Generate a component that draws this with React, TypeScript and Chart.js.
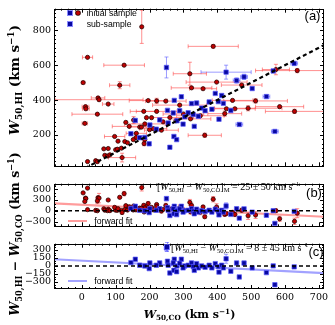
import React, { useEffect, useRef } from "react";
import { Chart, registerables } from "chart.js";
Chart.register(...registerables);

// ---------- axis / tick data ----------
const xTicks = [0, 100, 200, 300, 400, 500, 600, 700];
const yTicksA = [200, 400, 600, 800];
const yTicksB = [-300, 0, 300, 600];
const yTicksC = [-300, -150, 0, 150, 300];
const xLimits = [-82, 715];
const yLimitsA = [20, 924];
const yLimitsB = [-430, 750];
const yLimitsC = [-430, 415];

// ---------- initial sample (red circles) ----------
const redW50CO = [177, 17, 125, 4, 112, 48, 51, 78, 11, 12, 46, 9, 196, 388, 319, 636, 472, 398, 324, 358, 513, 445, 584, 628, 491, 422, 363, 452, 573, 65, 78, 100, 105, 117, 68, 76, 83, 119, 41, 46, 17, 97, 107, 127, 135, 153, 130, 160, 184, 206, 140, 171, 183, 191, 221, 248, 152, 161, 186, 221, 289, 186, 176, 211, 235, 278, 321, 427, 260, 300, 350, 240, 200];
const redW50HI = [820, 645, 600, 500, 485, 412, 402, 377, 362, 350, 319, 266, 397, 708, 551, 569, 486, 503, 470, 465, 395, 398, 362, 335, 353, 322, 198, 350, 575, 120, 122, 115, 118, 124, 83, 79, 86, 70, 52, 47, 47, 191, 164, 162, 155, 285, 272, 185, 150, 299, 249, 245, 335, 299, 395, 394, 173, 209, 173, 335, 371, 263, 245, 236, 227, 281, 292, 350, 300, 320, 310, 275, 230];
const redErrCO = [0, 15, 60, 5, 30, 20, 130, 17, 10, 10, 75, 8, 56, 74, 49, 123, 60, 90, 60, 40, 94, 60, 71, 86, 100, 50, 49, 60, 40, 0, 0, 0, 0, 0, 0, 0, 0, 40, 0, 0, 0, 30, 0, 0, 0, 0, 0, 0, 0, 0, 50, 30, 40, 0, 0, 60, 0, 30, 0, 60, 80, 60, 0, 40, 50, 0, 60, 0, 70, 60, 70, 0, 0];
const redErrHI = [95, 0, 0, 0, 20, 8, 8, 0, 8, 8, 0, 0, 0, 10, 66, 12, 0, 0, 0, 0, 12, 0, 0, 12, 15, 15, 12, 0, 30, 0, 0, 0, 0, 0, 0, 0, 0, 25, 0, 10, 0, 0, 0, 0, 0, 20, 0, 0, 12, 0, 0, 0, 0, 0, 15, 0, 0, 0, 0, 0, 0, 0, 0, 0, 0, 0, 0, 0, 0, 0, 0, 0, 0];

// ---------- sub-sample (blue squares) ----------
const blueW50CO = [145, 158, 171, 201, 199, 186, 230, 220, 253, 255, 273, 270, 260, 272, 281, 294, 289, 304, 299, 314, 324, 329, 339, 344, 354, 364, 376, 384, 394, 403, 413, 426, 418, 440, 457, 479, 465, 503, 545, 565, 570, 627, 250, 280, 332, 405];
const blueW50HI = [207, 283, 184, 257, 149, 186, 286, 233, 341, 268, 398, 326, 129, 191, 281, 419, 339, 304, 262, 327, 380, 317, 383, 307, 354, 339, 389, 347, 438, 391, 426, 560, 381, 340, 512, 533, 260, 466, 420, 567, 220, 610, 587, 173, 249, 290];
const blueErrCO = [0, 0, 0, 0, 0, 0, 0, 0, 0, 0, 0, 0, 0, 0, 0, 0, 0, 0, 0, 0, 0, 0, 0, 0, 0, 0, 0, 0, 0, 0, 0, 74, 0, 0, 10, 10, 10, 0, 10, 0, 10, 10, 0, 0, 0, 0];
const blueErrHI = [0, 0, 0, 0, 0, 0, 0, 0, 0, 0, 0, 0, 0, 0, 0, 0, 0, 0, 0, 0, 0, 0, 0, 0, 0, 0, 0, 0, 0, 0, 0, 40, 0, 0, 15, 15, 0, 0, 0, 0, 0, 0, 60, 0, 0, 0];

// ---------- lines ----------
const identityX = [-82, 715];
const zeroX = [-82, 715];
const fitInitialX = [-82, 715];
const fitInitialY = [205, -165];
const fitSubX = [-82, 715];
const fitSubY = [125, -135];

// ---------- styles ----------
const RED = "#c00000";
const RED_EDGE = "#2a0000";
const RED_ERR = "rgba(255,70,70,0.6)";
const BLUE = "#0808a0";
const BLUE_EDGE = "rgba(90,90,255,0.7)";
const BLUE_ERR = "rgba(90,90,255,0.6)";
const RED_FIT = "rgba(255,90,90,0.6)";
const BLUE_FIT = "rgba(100,100,255,0.6)";
const TICK_FONT = { family: "DejaVu Serif", size: 9.5 };

const fmt = (v: number) => (v < 0 ? "\u2212" + Math.abs(v) : String(v));

const pts = (xs: number[], ys: number[]) => xs.map((x, i) => ({ x, y: ys[i] }));
const redResid = redW50HI.map((v, i) => v - redW50CO[i]);
const blueResid = blueW50HI.map((v, i) => v - blueW50CO[i]);
const redResidErr = redErrHI.map((v, i) => Math.hypot(v, redErrCO[i]));
const blueResidErr = blueErrHI.map((v, i) => Math.hypot(v, blueErrCO[i]));

// ---------- plugins ----------
const errorBarPlugin = {
  id: "errorBars",
  beforeDatasetsDraw(chart: any) {
    const { ctx, chartArea } = chart;
    const xs = chart.scales.x;
    const ys = chart.scales.y;
    ctx.save();
    ctx.beginPath();
    ctx.rect(chartArea.left, chartArea.top, chartArea.width, chartArea.height);
    ctx.clip();
    chart.data.datasets.forEach((ds: any) => {
      if (!ds.errX && !ds.errY) return;
      ctx.strokeStyle = ds.errColor;
      ctx.lineWidth = 1;
      ds.data.forEach((p: any, i: number) => {
        const px = xs.getPixelForValue(p.x);
        const py = ys.getPixelForValue(p.y);
        const ex = ds.errX ? ds.errX[i] : 0;
        const ey = ds.errY ? ds.errY[i] : 0;
        ctx.beginPath();
        if (ex > 0) {
          const l = xs.getPixelForValue(p.x - ex);
          const r = xs.getPixelForValue(p.x + ex);
          ctx.moveTo(l, py); ctx.lineTo(r, py);
          ctx.moveTo(l, py - 2); ctx.lineTo(l, py + 2);
          ctx.moveTo(r, py - 2); ctx.lineTo(r, py + 2);
        }
        if (ey > 0) {
          const t = ys.getPixelForValue(p.y + ey);
          const b = ys.getPixelForValue(p.y - ey);
          ctx.moveTo(px, t); ctx.lineTo(px, b);
          ctx.moveTo(px - 2, t); ctx.lineTo(px + 2, t);
          ctx.moveTo(px - 2, b); ctx.lineTo(px + 2, b);
        }
        ctx.stroke();
      });
    });
    ctx.restore();
  },
};

const framePlugin = {
  id: "frame",
  afterDatasetsDraw(chart: any, _args: any, opts: any) {
    const { ctx, chartArea: a } = chart;
    const xs = chart.scales.x;
    const ys = chart.scales.y;
    ctx.save();
    ctx.strokeStyle = "#000";
    ctx.lineWidth = 1;
    ctx.strokeRect(Math.round(a.left) + 0.5, Math.round(a.top) + 0.5, Math.round(a.width) - 1, Math.round(a.height) - 1);
    ctx.beginPath();
    const xTick = (v: number, len: number) => {
      const p = Math.round(xs.getPixelForValue(v)) + 0.5;
      if (p < a.left || p > a.right) return;
      ctx.moveTo(p, a.bottom); ctx.lineTo(p, a.bottom - len);
      ctx.moveTo(p, a.top); ctx.lineTo(p, a.top + len);
    };
    const yTick = (v: number, len: number) => {
      const p = Math.round(ys.getPixelForValue(v)) + 0.5;
      if (p < a.top || p > a.bottom) return;
      ctx.moveTo(a.left, p); ctx.lineTo(a.left + len, p);
      ctx.moveTo(a.right, p); ctx.lineTo(a.right - len, p);
    };
    const minor = (min: number, max: number, step: number, majors: number[], fn: (v: number, l: number) => void) => {
      for (let v = Math.ceil(min / step) * step; v <= max; v += step) {
        if (!majors.includes(v)) fn(v, 2);
      }
    };
    opts.xMajor.forEach((v: number) => xTick(v, 4));
    opts.yMajor.forEach((v: number) => yTick(v, 4));
    minor(xs.min, xs.max, opts.xMinor, opts.xMajor, xTick);
    minor(ys.min, ys.max, opts.yMinor, opts.yMajor, yTick);
    ctx.stroke();
    ctx.restore();
  },
};

function makeOptions(p: {
  yLim: number[]; yTicks: number[]; yMinor: number; showX: boolean;
  padTop: number; padBottom: number; xAxisH: number;
}) {
  return {
    responsive: false,
    animation: false,
    devicePixelRatio: 1,
    events: [],
    layout: { padding: { left: 0, right: 11, top: p.padTop, bottom: p.padBottom } },
    plugins: {
      legend: { display: false },
      tooltip: { enabled: false },
      frame: { xMajor: xTicks, xMinor: 20, yMajor: p.yTicks, yMinor: p.yMinor },
    },
    scales: {
      x: {
        type: "linear",
        min: xLimits[0],
        max: xLimits[1],
        display: p.showX,
        grid: { display: false, drawTicks: false },
        border: { display: false },
        afterBuildTicks: (s: any) => { s.ticks = xTicks.map((v) => ({ value: v })); },
        afterFit: (s: any) => { s.height = p.xAxisH; },
        ticks: { font: TICK_FONT, color: "#000", padding: 3, maxRotation: 0, autoSkip: false, callback: (v: any) => fmt(Number(v)) },
      },
      y: {
        type: "linear",
        min: p.yLim[0],
        max: p.yLim[1],
        grid: { display: false, drawTicks: false },
        border: { display: false },
        afterBuildTicks: (s: any) => { s.ticks = p.yTicks.map((v) => ({ value: v })); },
        afterFit: (s: any) => { s.width = 54; },
        ticks: { font: TICK_FONT, color: "#000", padding: 3, autoSkip: false, callback: (v: any) => fmt(Number(v)) },
      },
    },
  };
}

const lineDs = (data: any[], color: string, width: number, dash: number[]) => ({
  type: "line",
  data,
  borderColor: color,
  borderWidth: width,
  borderDash: dash,
  pointRadius: 0,
  showLine: true,
  fill: false,
});

const blueDs = (data: any[], ex: number[] | null, ey: number[]) => ({
  type: "scatter",
  data,
  pointStyle: "rect",
  pointRadius: 3.1,
  backgroundColor: BLUE,
  borderColor: BLUE_EDGE,
  borderWidth: 1,
  errX: ex,
  errY: ey,
  errColor: BLUE_ERR,
});

const redDs = (data: any[], ex: number[] | null, ey: number[]) => ({
  type: "scatter",
  data,
  pointStyle: "circle",
  pointRadius: 2.1,
  backgroundColor: RED,
  borderColor: RED_EDGE,
  borderWidth: 0.8,
  errX: ex,
  errY: ey,
  errColor: RED_ERR,
});

function configA() {
  return {
    type: "scatter",
    data: {
      datasets: [
        lineDs(identityX.map((v) => ({ x: v, y: v })), "#000", 2.2, [4, 3]),
        blueDs(pts(blueW50CO, blueW50HI), blueErrCO, blueErrHI),
        redDs(pts(redW50CO, redW50HI), redErrCO, redErrHI),
      ],
    },
    options: makeOptions({ yLim: yLimitsA, yTicks: yTicksA, yMinor: 25, showX: false, padTop: 1, padBottom: 7, xAxisH: 0 }),
    plugins: [errorBarPlugin, framePlugin],
  };
}

function configB() {
  return {
    type: "scatter",
    data: {
      datasets: [
        lineDs(zeroX.map((v) => ({ x: v, y: 0 })), "#000", 1.6, [4, 3]),
        blueDs(pts(blueW50CO, blueResid), null, blueResidErr),
        redDs(pts(redW50CO, redResid), null, redResidErr),
        lineDs(pts(fitInitialX, fitInitialY), RED_FIT, 2.2, []),
      ],
    },
    options: makeOptions({ yLim: yLimitsB, yTicks: yTicksB, yMinor: 100, showX: false, padTop: 5, padBottom: 7, xAxisH: 0 }),
    plugins: [errorBarPlugin, framePlugin],
  };
}

function configC() {
  return {
    type: "scatter",
    data: {
      datasets: [
        lineDs(zeroX.map((v) => ({ x: v, y: 0 })), "#000", 1.6, [4, 3]),
        blueDs(pts(blueW50CO, blueResid), null, blueResidErr),
        lineDs(pts(fitSubX, fitSubY), BLUE_FIT, 2.2, []),
      ],
    },
    options: makeOptions({ yLim: yLimitsC, yTicks: yTicksC, yMinor: 50, showX: true, padTop: 5, padBottom: 16, xAxisH: 20 }),
    plugins: [errorBarPlugin, framePlugin],
  };
}

function Panel({ top, height, make }: { top: number; height: number; make: () => any }) {
  const ref = useRef<HTMLCanvasElement>(null);
  useEffect(() => {
    const chart = new Chart(ref.current as HTMLCanvasElement, make());
    return () => chart.destroy();
  }, []);
  return (
    <canvas
      ref={ref}
      width={335}
      height={height}
      style={{ position: "absolute", left: 0, top, width: 335, height }}
    />
  );
}

// ---------- text helpers ----------
const sub = (s: string) => (
  <span style={{ fontSize: "0.66em", position: "relative", top: "0.32em" }}>{s}</span>
);
const sup = (s: string) => (
  <span style={{ fontSize: "0.66em", position: "relative", top: "-0.55em" }}>{s}</span>
);
const W = (s: string) => (
  <>
    <span style={{ fontStyle: "italic" }}>W</span>
    {sub(s)}
  </>
);

const abs = (left: number, top: number, extra: any = {}): any => ({
  position: "absolute",
  left,
  top,
  whiteSpace: "nowrap",
  lineHeight: 1,
  color: "#000",
  ...extra,
});

const sans = { fontFamily: "'Liberation Sans', Arial, sans-serif" };
const serif = { fontFamily: "'DejaVu Serif', serif" };
const serifNarrow = { fontFamily: "'Liberation Serif', serif" };

export default function App() {
  const legendSq = (cx: number, cy: number) => (
    <span style={abs(cx - 2.2, cy - 2.2, { width: 4.4, height: 4.4, background: BLUE, boxShadow: `0 0 0 1px ${BLUE_EDGE}` })} />
  );
  const legendCirc = (cx: number, cy: number) => (
    <span style={abs(cx - 2.1, cy - 2.1, { width: 4.2, height: 4.2, borderRadius: "50%", background: RED, boxShadow: `0 0 0 0.8px ${RED_EDGE}` })} />
  );
  return (
    <div style={{ position: "absolute", left: 0, top: 0, width: 335, height: 325, background: "#fff", overflow: "hidden" }}>
      <Panel top={0} height={175} make={configA} />
      <Panel top={175} height={60} make={configB} />
      <Panel top={235} height={90} make={configC} />

      {/* legend (a) */}
      {legendSq(70, 12.7)}
      {legendCirc(78.3, 12.7)}
      <div style={abs(86.7, 12.7, { ...sans, fontSize: 8.7, transform: "translateY(-50%)" })}>initial sample</div>
      {legendSq(70, 24.3)}
      <div style={abs(86.7, 24.3, { ...sans, fontSize: 8.7, transform: "translateY(-50%)" })}>sub-sample</div>

      {/* legend (b) */}
      <span style={abs(68.3, 219.7, { width: 18.4, height: 2, background: RED_FIT })} />
      <div style={abs(94.3, 220.7, { ...sans, fontSize: 8.7, transform: "translateY(-50%)" })}>forward fit</div>
      {/* legend (c) */}
      <span style={abs(68.3, 279.7, { width: 18.4, height: 2, background: BLUE_FIT })} />
      <div style={abs(94.3, 280.5, { ...sans, fontSize: 8.7, transform: "translateY(-50%)" })}>forward fit</div>

      {/* panel labels */}
      <div style={abs(312.5, 15, { ...sans, fontSize: 13, transform: "translate(-50%,-50%)" })}>(a)</div>
      <div style={abs(314, 191.7, { ...sans, fontSize: 13, transform: "translate(-50%,-50%)" })}>(b)</div>
      <div style={abs(316, 251, { ...sans, fontSize: 13, transform: "translate(-50%,-50%)" })}>(c)</div>

      {/* annotations */}
      <div style={abs(157, 186.5, { ...serifNarrow, fontSize: 10, transform: "translateY(-50%)" })}>
        [{W("50,HI")} − {W("50,CO")}]{sub("M")} = 25 ± 50 km s{sup("−1")}
      </div>
      <span style={abs(166.8, 241.7, { width: 1, height: 10, background: BLUE_ERR })} />
      <span style={abs(165.3, 241.7, { width: 4, height: 1, background: BLUE_ERR })} />
      <span style={abs(165.3, 250.7, { width: 4, height: 1, background: BLUE_ERR })} />
      {legendSq(167.3, 246.7)}
      <div style={abs(171, 248, { ...serifNarrow, fontSize: 10, transform: "translateY(-50%)" })}>
        [{W("50,HI")} − {W("50,CO")}]{sub("M")} = 8 ± 45 km s{sup("−1")}
      </div>

      {/* axis titles */}
      <div style={abs(15, 80, { ...serif, fontSize: 13.5, fontWeight: "bold", transform: "translate(-50%,-50%) rotate(-90deg)" })}>
        {W("50,HI")} (km s{sup("−1")})
      </div>
      <div style={abs(15, 234, { ...serif, fontSize: 12.5, fontWeight: "bold", transform: "translate(-50%,-50%) rotate(-90deg)" })}>
        {W("50,HI")} − {W("50,CO")} (km s{sup("−1")})
      </div>
      <div style={abs(189.5, 314, { ...serif, fontSize: 11, fontWeight: "bold", transform: "translate(-50%,-50%)" })}>
        {W("50,CO")} (km s{sup("−1")})
      </div>
    </div>
  );
}
